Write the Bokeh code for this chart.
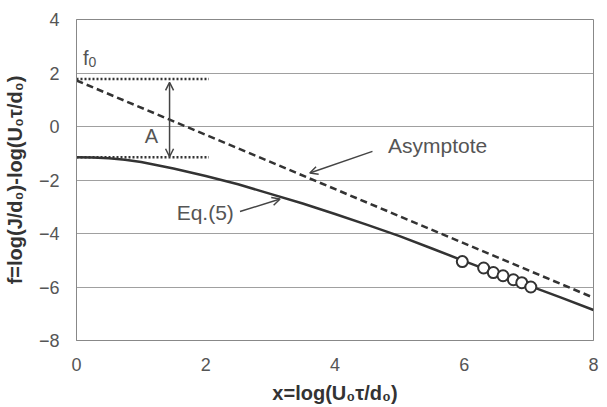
from bokeh.plotting import figure
from bokeh.models import Range1d, FixedTicker, Label, Arrow, OpenHead
from bokeh.embed import file_html
from bokeh.resources import INLINE

# ---- data ----
x_curve = [0.0, 0.25, 0.5, 0.75, 1.0, 1.5, 2.0, 2.5, 3.0, 3.5, 4.0, 4.5, 5.0, 5.5, 6.0, 6.5, 7.0, 7.5, 8.0]
f_curve = [-1.15, -1.16, -1.19, -1.24, -1.33, -1.57, -1.85, -2.16, -2.52, -2.88, -3.27, -3.68, -4.10, -4.56, -5.03, -5.49, -5.95, -6.40, -6.86]

x_asym = [0.0, 8.0]
f_asym = [1.72, -6.40]

x_meas = [5.97, 6.30, 6.45, 6.60, 6.76, 6.89, 7.03]
f_meas = [-5.05, -5.29, -5.46, -5.58, -5.73, -5.84, -6.00]

f0_level = 1.78
fmin_level = -1.15
ref_x = [0.0, 2.05]

x_ticks = [0, 2, 4, 6, 8]
y_ticks = [-8, -6, -4, -2, 0, 2, 4]

# annotation anchors (data units, text baselines)
A_arrow = dict(x=1.44, y_top=1.65, y_bot=-1.13)
A_text = (1.16, -0.36)
f0_text = (0.10, 2.56)
f0_sub = (0.185, 2.40)
asym_text = (4.82, -0.70)
asym_arrow = (4.58, -0.93, 3.61, -1.74)
eq_text = (1.55, -3.22)
eq_arrow = (2.53, -3.18, 3.15, -2.71)

FONT = "Liberation Sans"
DARK = "#333333"
GREY_TXT = "#555555"

p = figure(width=607, height=407, output_backend="svg", toolbar_location=None,
           x_range=Range1d(0, 8), y_range=Range1d(-8, 4),
           min_border_left=76, min_border_right=14, min_border_top=19, min_border_bottom=67)

p.background_fill_color = "white"
p.border_fill_color = "white"
p.outline_line_color = "#888888"
p.outline_line_width = 1

p.xgrid.grid_line_color = None
p.ygrid.grid_line_color = "#a0a0a0"
p.ygrid.grid_line_width = 1

p.xaxis.ticker = FixedTicker(ticks=x_ticks)
p.yaxis.ticker = FixedTicker(ticks=y_ticks)
for ax in (p.xaxis, p.yaxis):
    ax.axis_line_color = "#888888"
    ax.major_tick_line_color = None
    ax.minor_tick_line_color = None
    ax.major_tick_out = 0
    ax.major_tick_in = 0
    ax.minor_tick_out = 0
    ax.major_label_text_font = FONT
    ax.major_label_text_font_size = "18px"
    ax.major_label_text_color = GREY_TXT
    ax.axis_label_text_font = FONT
    ax.axis_label_text_font_size = "20px"
    ax.axis_label_text_font_style = "bold"
    ax.axis_label_text_color = DARK

p.xaxis.major_label_standoff = 17
p.xaxis.axis_label_standoff = 8
p.yaxis.major_label_standoff = 17
p.yaxis.axis_label_standoff = 10
p.xaxis.axis_label = "x=log(U\u2080\u03c4/d\u2080)"
p.yaxis.axis_label = "f=log(J/d\u2080)-log(U\u2080\u03c4/d\u2080)"

# reference dotted levels
p.line(ref_x, [f0_level, f0_level], line_color=DARK, line_width=2.5, line_dash="2 2")
p.line(ref_x, [fmin_level, fmin_level], line_color=DARK, line_width=2.5, line_dash="2 2")

# asymptote
p.line(x_asym, f_asym, line_color=DARK, line_width=2.5, line_dash="7 4")

# Eq.(5)
p.line(x_curve, f_curve, line_color=DARK, line_width=2.5)

# measured points
p.scatter(x_meas, f_meas, marker="circle", size=11, fill_color="white",
          line_color=DARK, line_width=2)

# arrows
ARROW_C = "#444444"
p.add_layout(Arrow(x_start=A_arrow["x"], y_start=A_arrow["y_bot"], x_end=A_arrow["x"], y_end=A_arrow["y_top"],
                   start=OpenHead(size=8, line_width=1.5, line_color=ARROW_C),
                   end=OpenHead(size=8, line_width=1.5, line_color=ARROW_C),
                   line_width=1.5, line_color=ARROW_C))
p.add_layout(Arrow(x_start=asym_arrow[0], y_start=asym_arrow[1], x_end=asym_arrow[2], y_end=asym_arrow[3],
                   end=OpenHead(size=8, line_width=1.5, line_color=ARROW_C),
                   line_width=1.5, line_color=ARROW_C))
p.add_layout(Arrow(x_start=eq_arrow[0], y_start=eq_arrow[1], x_end=eq_arrow[2], y_end=eq_arrow[3],
                   end=OpenHead(size=8, line_width=1.5, line_color=ARROW_C),
                   line_width=1.5, line_color=ARROW_C))

# labels
def lab(x, y, t, size="21px", align="left"):
    p.add_layout(Label(x=x, y=y, text=t, text_font=FONT, text_font_size=size,
                       text_color=GREY_TXT, text_baseline="alphabetic", text_align=align))

lab(A_text[0], A_text[1], "A", size="20px", align="center")
lab(f0_text[0], f0_text[1], "f", size="20px")
lab(f0_sub[0], f0_sub[1], "0", size="14px")
lab(asym_text[0], asym_text[1], "Asymptote")
lab(eq_text[0], eq_text[1], "Eq.(5)")

open("out.html", "w").write(file_html(p, INLINE))
